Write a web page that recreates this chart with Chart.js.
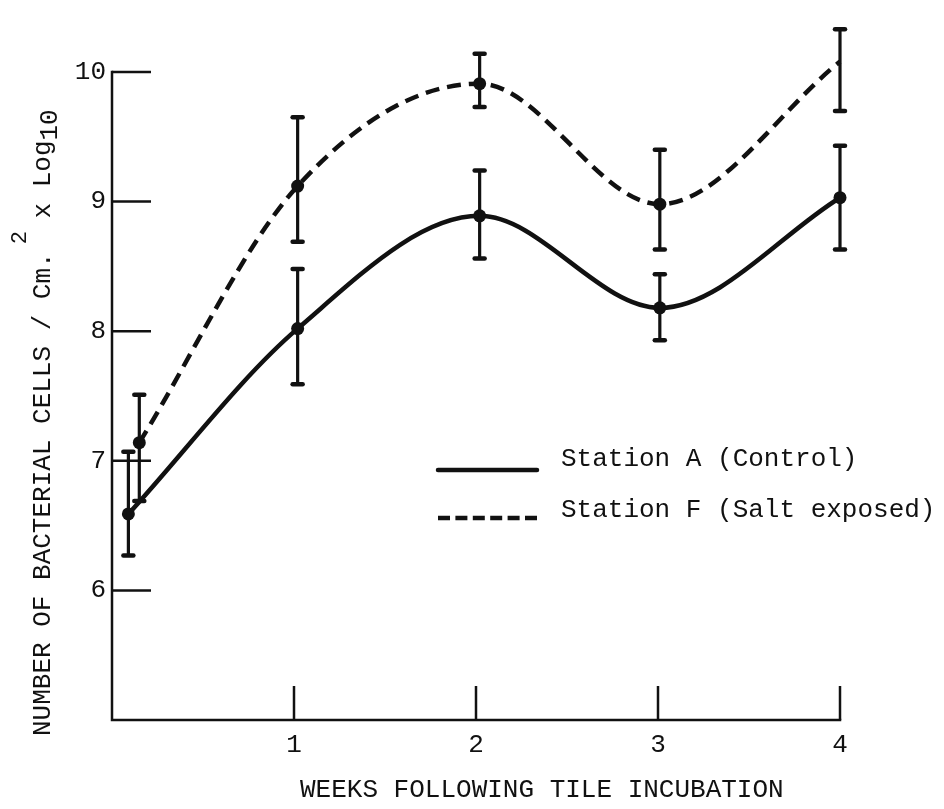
<!DOCTYPE html>
<html>
<head>
<meta charset="utf-8">
<title>Bacterial cells on incubated tiles</title>
<script src="https://cdn.jsdelivr.net/npm/chart.js"></script>
<style>
  html, body { margin: 0; padding: 0; background: #ffffff; }
  #wrap { width: 944px; height: 809px; position: relative; }
</style>
</head>
<body>
<div id="wrap"><canvas id="chart"></canvas></div>
<script>
// Weeks after the tiles were set out (the first sampling was a day or so in)
const weeksA = [0.09, 1.02, 2.02, 3.01, 4.0];
const weeksF = [0.15, 1.02, 2.02, 3.01, 4.0];

// log10 of bacterial cells per cm², mean with lower / upper limits
const stationA     = [6.59, 8.02, 8.89, 8.18, 9.03];
const stationALow  = [6.27, 7.59, 8.56, 7.93, 8.63];
const stationAHigh = [7.07, 8.48, 9.24, 8.44, 9.43];

const stationF     = [7.14, 9.12, 9.91, 8.98, 10.08];
const stationFLow  = [6.69, 8.69, 9.73, 8.63, 9.70];
const stationFHigh = [7.51, 9.65, 10.14, 9.40, 10.33];

const seriesLabels = ['Station A (Control)', 'Station F (Salt exposed)'];

// Axis ticks
const xTicks = [1, 2, 3, 4];
const yTicks = [6, 7, 8, 9, 10];

const FONT = '"Liberation Mono", "Courier New", monospace';
const INK = '#111111';

function points(xs, ys, lo, hi) {
  return xs.map((x, i) => ({ x: x, y: ys[i], lo: lo[i], hi: hi[i] }));
}

// Frame: left and bottom axis lines with inward tick marks
const framePlugin = {
  id: 'frame',
  beforeDatasetsDraw(chart) {
    const { ctx } = chart;
    const xs = chart.scales.x, ys = chart.scales.y;
    const left = xs.getPixelForValue(0);
    const right = xs.getPixelForValue(4);
    const top = ys.getPixelForValue(10);
    const bottom = ys.getPixelForValue(5);
    ctx.save();
    ctx.strokeStyle = INK;
    ctx.lineWidth = 2.5;
    ctx.lineCap = 'square';
    ctx.beginPath();
    ctx.moveTo(left, top);
    ctx.lineTo(left, bottom);
    ctx.lineTo(right, bottom);
    ctx.stroke();
    ctx.lineCap = 'butt';
    yTicks.forEach(v => {
      const py = ys.getPixelForValue(v);
      ctx.beginPath();
      ctx.moveTo(left, py);
      ctx.lineTo(left + 39, py);
      ctx.stroke();
    });
    xTicks.forEach(v => {
      const px = xs.getPixelForValue(v);
      ctx.beginPath();
      ctx.moveTo(px, bottom);
      ctx.lineTo(px, bottom - 34);
      ctx.stroke();
    });
    ctx.restore();
  }
};

// Vertical range bars with short rounded caps
const rangePlugin = {
  id: 'ranges',
  afterDatasetsDraw(chart) {
    const { ctx } = chart;
    const xs = chart.scales.x, ys = chart.scales.y;
    ctx.save();
    ctx.strokeStyle = INK;
    chart.data.datasets.forEach(ds => {
      ds.data.forEach(p => {
        const px = xs.getPixelForValue(p.x);
        const pLo = ys.getPixelForValue(p.lo);
        const pHi = ys.getPixelForValue(p.hi);
        ctx.lineCap = 'butt';
        ctx.lineWidth = 3.2;
        ctx.beginPath();
        ctx.moveTo(px, pHi);
        ctx.lineTo(px, pLo);
        ctx.stroke();
        ctx.lineCap = 'round';
        ctx.lineWidth = 4.5;
        [pLo, pHi].forEach(py => {
          ctx.beginPath();
          ctx.moveTo(px - 5, py);
          ctx.lineTo(px + 5, py);
          ctx.stroke();
        });
      });
    });
    ctx.restore();
  }
};

// Axis titles and the key
const textPlugin = {
  id: 'texts',
  afterDraw(chart) {
    const { ctx } = chart;
    ctx.save();
    ctx.fillStyle = INK;
    ctx.strokeStyle = INK;

    // x axis title
    ctx.font = '26px ' + FONT;
    ctx.textAlign = 'left';
    ctx.textBaseline = 'middle';
    ctx.fillText('WEEKS FOLLOWING TILE INCUBATION', 300, 790);

    // y axis title, read bottom to top
    ctx.save();
    ctx.translate(50, 736);
    ctx.rotate(-Math.PI / 2);
    ctx.textBaseline = 'alphabetic';
    let pos = 0;
    const seg = (txt, size, shift, gap) => {
      pos += gap || 0;
      ctx.font = size + 'px ' + FONT;
      ctx.fillText(txt, pos, shift);
      pos += ctx.measureText(txt).width;
    };
    seg('NUMBER OF BACTERIAL CELLS / Cm.', 26, 0);
    seg('2', 22, -24, 8);
    seg(' x Log', 26, 0, -3);
    seg('10', 26, 7, 0);
    ctx.restore();

    // key
    const kx0 = 438, kx1 = 537;
    ctx.lineWidth = 4.5;
    ctx.lineCap = 'round';
    ctx.setLineDash([]);
    ctx.beginPath();
    ctx.moveTo(kx0, 470);
    ctx.lineTo(kx1, 470);
    ctx.stroke();
    ctx.setLineDash([12, 5.4]);
    ctx.lineCap = 'butt';
    ctx.beginPath();
    ctx.moveTo(kx0, 518);
    ctx.lineTo(kx1, 518);
    ctx.stroke();
    ctx.setLineDash([]);
    ctx.font = '26px ' + FONT;
    ctx.textBaseline = 'middle';
    ctx.fillText(seriesLabels[0], 561, 459);
    ctx.fillText(seriesLabels[1], 561, 510);
    ctx.restore();
  }
};

const lineStyle = {
  showLine: true,
  borderColor: INK,
  backgroundColor: INK,
  borderWidth: 4.5,
  pointRadius: 6.5,
  pointHoverRadius: 6.5,
  pointBackgroundColor: INK,
  pointBorderColor: INK,
  pointBorderWidth: 0,
  cubicInterpolationMode: 'monotone',
  clip: false,
  fill: false
};

new Chart(document.getElementById('chart'), {
  type: 'line',
  data: {
    datasets: [
      Object.assign({ label: seriesLabels[0], data: points(weeksA, stationA, stationALow, stationAHigh) }, lineStyle),
      Object.assign({ label: seriesLabels[1], data: points(weeksF, stationF, stationFLow, stationFHigh), borderDash: [14, 8] }, lineStyle)
    ]
  },
  options: {
    responsive: true,
    maintainAspectRatio: false,
    animation: false,
    events: [],
    layout: { padding: { top: 72, right: 104, bottom: 0, left: 0 } },
    elements: { line: { capBezierPoints: false } },
    plugins: {
      legend: { display: false },
      tooltip: { enabled: false },
      title: { display: false }
    },
    scales: {
      x: {
        type: 'linear',
        min: 0,
        max: 4,
        grid: { display: false, drawTicks: false },
        border: { display: false },
        afterBuildTicks: s => { s.ticks = xTicks.map(v => ({ value: v })); },
        afterFit: s => { s.height = 89; },
        ticks: {
          color: INK,
          padding: 10,
          maxRotation: 0,
          font: { family: FONT, size: 26 }
        }
      },
      y: {
        type: 'linear',
        min: 5,
        max: 10,
        grid: { display: false, drawTicks: false },
        border: { display: false },
        afterBuildTicks: s => { s.ticks = yTicks.map(v => ({ value: v })); },
        afterFit: s => { s.width = 112; },
        ticks: {
          color: INK,
          padding: 6,
          font: { family: FONT, size: 26 }
        }
      }
    }
  },
  plugins: [framePlugin, rangePlugin, textPlugin]
});
</script>
</body>
</html>
